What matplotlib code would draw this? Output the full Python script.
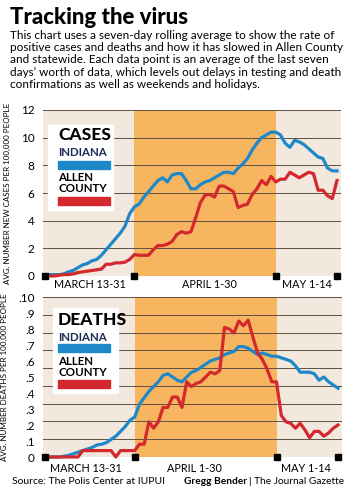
import matplotlib.pyplot as plt
import numpy as np
from matplotlib.patches import Rectangle

# days since March 13 (0 = Mar 13, 19 = Apr 1, 49 = May 1, 62 = May 14)
days = np.arange(63)
marker_days = [0, 19, 49, 62]
april_span = (19, 49)

cases_indiana = [
    0.1, 0.1, 0.1, 0.1, 0.15, 0.3, 0.4, 0.6, 0.8, 0.9,
    1.1, 1.2, 1.5, 1.9, 2.3, 2.7, 3.1, 3.6, 4.5, 5.0,
    5.2, 5.7, 6.1, 6.5, 6.9, 7.1, 6.8, 7.3, 7.4, 7.4,
    6.9, 6.3, 6.3, 6.6, 6.8, 6.9, 7.1, 7.3, 7.5, 7.5,
    7.4, 7.8, 8.1, 8.5, 9.1, 9.6, 10.0, 10.2, 10.4, 10.4,
    10.2, 9.6, 9.3, 9.8, 9.7, 9.5, 9.2, 8.9, 8.6, 8.5,
    7.8, 7.6, 7.6,
]
cases_allen = [
    0.0, 0.0, 0.0, 0.05, 0.1, 0.1, 0.15, 0.25, 0.3, 0.35,
    0.4, 0.45, 0.5, 0.85, 0.85, 0.95, 0.95, 1.0, 1.2, 1.55,
    1.5, 1.5, 1.5, 1.9, 2.2, 2.2, 2.3, 2.5, 3.0, 3.2,
    3.1, 3.2, 4.2, 5.3, 5.85, 5.9, 5.7, 6.5, 6.5, 6.3,
    6.1, 4.95, 5.1, 5.2, 5.9, 6.3, 6.9, 6.6, 7.2, 6.8,
    7.0, 7.0, 7.5, 7.3, 7.1, 7.3, 7.5, 7.4, 6.2, 6.2,
    5.8, 5.6, 6.9,
]
deaths_indiana = [
    0.0, 0.0, 0.0, 0.0, 0.005, 0.01, 0.02, 0.03, 0.04, 0.05,
    0.06, 0.075, 0.08, 0.09, 0.11, 0.13, 0.16, 0.19, 0.23, 0.25,
    0.33, 0.37, 0.41, 0.44, 0.47, 0.51, 0.52, 0.50, 0.48, 0.47,
    0.50, 0.53, 0.54, 0.56, 0.58, 0.60, 0.61, 0.62, 0.64, 0.65,
    0.66, 0.69, 0.69, 0.68, 0.66, 0.64, 0.65, 0.64, 0.63, 0.63,
    0.62, 0.61, 0.60, 0.57, 0.53, 0.53, 0.53, 0.52, 0.48, 0.50,
    0.47, 0.45, 0.43,
]
deaths_allen = [
    0.0, 0.0, 0.0, 0.0, 0.0, 0.0, 0.0, 0.0, 0.04, 0.04,
    0.04, 0.04, 0.04, 0.04, 0.04, 0.0, 0.04, 0.04, 0.04, 0.04,
    0.08, 0.08, 0.22, 0.18, 0.22, 0.31, 0.31, 0.375, 0.375, 0.31,
    0.47, 0.44, 0.46, 0.47, 0.50, 0.53, 0.52, 0.54, 0.81, 0.80,
    0.775, 0.85, 0.82, 0.855, 0.75, 0.65, 0.61, 0.55, 0.47, 0.47,
    0.26, 0.22, 0.21, 0.18, 0.21, 0.17, 0.12, 0.16, 0.16, 0.13,
    0.15, 0.18, 0.20,
]

cases_ticks = [0, 2, 4, 6, 8, 10, 12]
deaths_ticks = [0, 0.1, 0.2, 0.3, 0.4, 0.5, 0.6, 0.7, 0.8, 0.9, 1.0]
deaths_labels = ["0", ".1", ".2", ".3", ".4", ".5", ".6", ".7", ".8", ".9", ".10"]

BLUE = "#1f88c9"
RED = "#d2282e"
ORANGE = "#f8b560"
BEIGE = "#f2e8de"
GRID = "#5e5045"

plt.rcParams["font.family"] = ["Lato", "DejaVu Sans"]

W, H = 353, 500
fig = plt.figure(figsize=(W / 100, H / 100), dpi=100)


def fx(x):
    return x / W


def fy(y):
    return 1 - y / H


# title and intro
fig.text(fx(10), fy(24), "Tracking the virus", fontsize=16, fontweight="black",
         ha="left", va="baseline")
intro = ("This chart uses a seven-day rolling average to show the rate of\n"
         "positive cases and deaths and how it has slowed in Allen County\n"
         "and statewide. Each data point is an average of the last seven\n"
         "days\u2019 worth of data, which levels out delays in testing and death\n"
         "confirmations as well as weekends and holidays.")
fig.text(fx(10), fy(30), intro, fontsize=8.5, ha="left", va="top", linespacing=1.13)


def setup(ax, ymax, ticks, labels, grid_levels, ylabel):
    ax.set_facecolor(BEIGE)
    ax.axvspan(*april_span, color=ORANGE, lw=0, zorder=0)
    for g in grid_levels:
        ax.axhline(g, color=GRID, lw=0.7, zorder=1)
    ax.set_xlim(-0.4, 62.85)
    ax.set_ylim(0, ymax)
    ax.set_xticks([])
    ax.set_yticks(ticks)
    ax.set_yticklabels(labels, fontsize=8.5)
    ax.tick_params(axis="y", length=0, pad=6)
    for s in ax.spines.values():
        s.set_visible(False)
    ax.set_ylabel(ylabel, fontsize=5.8, labelpad=7)
    ax.plot(marker_days, [0] * len(marker_days), "s", color="black", ms=4.5,
            clip_on=False, zorder=6)


def legend(x0, y0, w, h, title, tops):
    fig.patches.append(Rectangle((fx(x0), fy(y0 + h)), w / W, h / H, color="white",
                                 transform=fig.transFigure, zorder=2))
    fig.text(fx(58), fy(tops[0]), title, fontsize=12.5, fontweight="black",
             ha="left", va="top", zorder=3)
    fig.text(fx(58), fy(tops[1]), "INDIANA", fontsize=8.3, fontweight="bold",
             color="#1b2a55", ha="left", va="top", zorder=3)
    fig.patches.append(Rectangle((fx(58), fy(tops[2] + 8)), 52 / W, 8 / H, color=BLUE,
                                 transform=fig.transFigure, zorder=3))
    fig.text(fx(58), fy(tops[3]), "ALLEN\nCOUNTY", fontsize=8.3, fontweight="bold",
             ha="left", va="top", linespacing=0.95, zorder=3)
    fig.patches.append(Rectangle((fx(58), fy(tops[4] + 8)), 52 / W, 8 / H, color=RED,
                                 transform=fig.transFigure, zorder=3))


# cases chart
ax1 = fig.add_axes([fx(43), fy(276), 298 / W, 166 / H])
setup(ax1, 12, cases_ticks, [str(t) for t in cases_ticks], cases_ticks,
      "AVG. NUMBER NEW CASES PER 100,000 PEOPLE")
ax1.plot(days, cases_indiana, color=BLUE, lw=2.3, clip_on=False, zorder=4)
ax1.plot(days, cases_allen, color=RED, lw=2.3, clip_on=False, zorder=4)
legend(48, 125, 65, 85, "CASES", [127, 147, 161, 172, 197])
fig.text(fx(90), fy(284), "MARCH 13-31", fontsize=7.8, ha="center", va="center")
fig.text(fx(209), fy(284), "APRIL 1-30", fontsize=7.8, ha="center", va="center")
fig.text(fx(307), fy(284), "MAY 1-14", fontsize=7.8, ha="center", va="center")

# deaths chart
ax2 = fig.add_axes([fx(43), fy(457), 299 / W, 160 / H])
setup(ax2, 1.0, deaths_ticks, deaths_labels, np.linspace(0, 1, 10),
      "AVG. NUMBER DEATHS PER 100,000 PEOPLE")
ax2.plot(days, deaths_indiana, color=BLUE, lw=2.3, clip_on=False, zorder=4)
ax2.plot(days, deaths_allen, color=RED, lw=2.3, clip_on=False, zorder=4)
legend(53, 308, 65, 85, "DEATHS", [312, 332, 344, 356, 380])
fig.text(fx(86), fy(468), "MARCH 13-31", fontsize=7.8, ha="center", va="center")
fig.text(fx(194), fy(468), "APRIL 1-30", fontsize=7.8, ha="center", va="center")
fig.text(fx(306), fy(468), "MAY 1-14", fontsize=7.8, ha="center", va="center")

# credits
fig.text(fx(12), fy(482), "Source: The Polis Center at IUPUI", fontsize=7.5,
         ha="left", va="center")
journal = fig.text(fx(344), fy(482), "| The Journal Gazette", fontsize=7.3,
                   ha="right", va="center")
fig.canvas.draw()
left_px = journal.get_window_extent().x0
fig.text(left_px / W - 2 / W, fy(482), "Gregg Bender", fontsize=7.3, fontweight="bold",
         ha="right", va="center")

fig.savefig("out.png", dpi=100)
